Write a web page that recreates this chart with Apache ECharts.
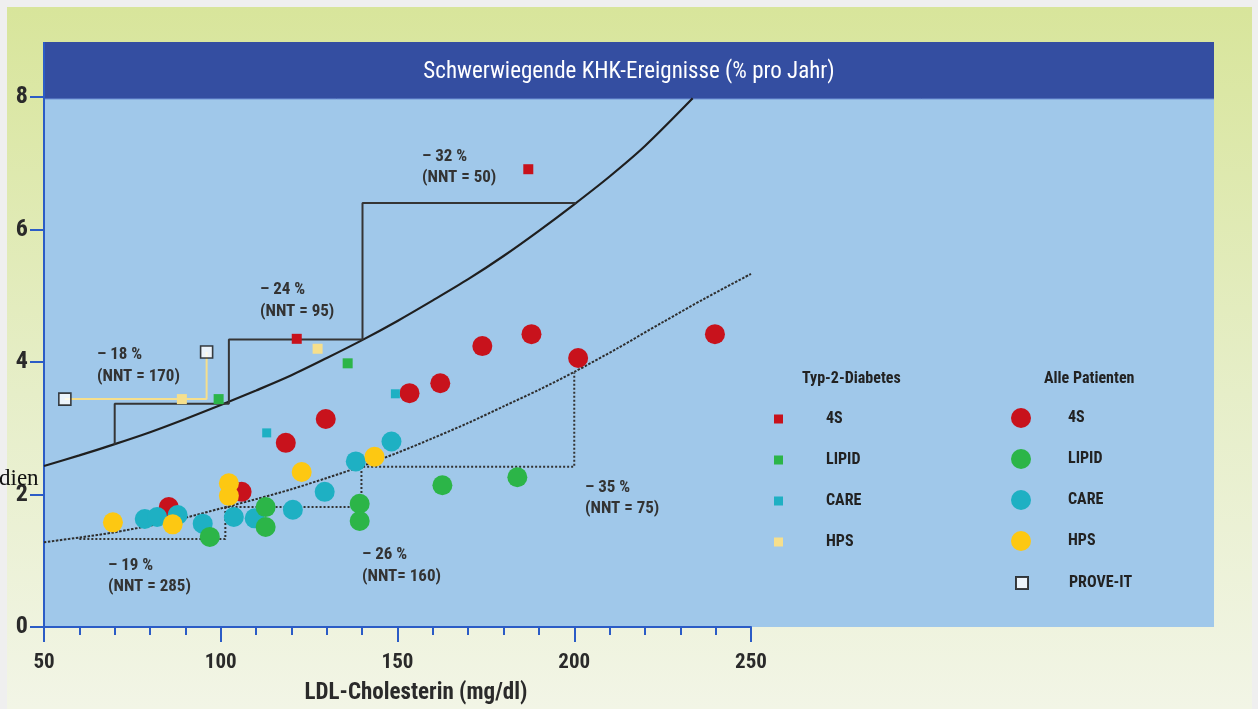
<!DOCTYPE html>
<html>
<head>
<meta charset="utf-8">
<script src="https://cdn.jsdelivr.net/npm/echarts@6/dist/echarts.min.js"></script>
<style>
html,body{margin:0;padding:0;background:#efefef;}
#chart{width:1258px;height:709px;}
</style>
</head>
<body>
<div id="chart"></div>
<script>
// ---- data ----
const xTicks = [50, 100, 150, 200, 250];
const yTicks = [0, 2, 4, 6, 8];

// regression curves
const upperCurve = [[50,2.43],[60,2.59],[70,2.76],[80,2.94],[90,3.14],[100,3.35],[110,3.57],[120,3.8],[130,4.06],[140,4.33],[150,4.62],[160,4.93],[170,5.25],[180,5.6],[190,5.98],[200,6.38],[210,6.8],[220,7.26],[233.5,7.98]];
const lowerCurve = [[50,1.28],[60,1.35],[70,1.43],[80,1.53],[90,1.65],[100,1.79],[110,1.93],[120,2.08],[130,2.25],[140,2.43],[150,2.63],[160,2.85],[170,3.08],[180,3.33],[190,3.58],[200,3.85],[212,4.2],[225,4.6],[237,4.96],[250,5.33]];

// step lines between the curves
const upperSteps = [[70,2.75],[70,3.37],[102.3,3.37],[102.3,4.34],[140.1,4.34],[140.1,6.4],[200.4,6.4]];
const lowerSteps = [[60,1.33],[101.3,1.33],[101.3,1.81],[139.8,1.81],[139.8,2.42],[200,2.42],[200,3.84]];

// Alle Patienten (circles)
const all4S    = [[85.3,1.81],[105.9,2.04],[118.4,2.78],[129.7,3.14],[153.4,3.53],[162.1,3.68],[174,4.24],[187.9,4.42],[201.1,4.06],[239.8,4.42]];
const allCARE  = [[78.5,1.63],[82,1.66],[87.8,1.69],[94.9,1.56],[103.7,1.66],[109.6,1.64],[120.4,1.77],[129.4,2.04],[138.2,2.5],[148.3,2.8]];
const allLIPID = [[96.9,1.36],[112.7,1.81],[112.7,1.51],[139.3,1.86],[139.3,1.6],[162.7,2.14],[183.9,2.26]];
const allHPS   = [[69.5,1.58],[86.4,1.55],[102.3,2.17],[102.3,1.98],[122.9,2.34],[143.5,2.57]];

// Typ-2-Diabetes (small squares)
const dm4S    = [[121.5,4.35],[187,6.91]];
const dmLIPID = [[99.4,3.44],[135.9,3.98]];
const dmCARE  = [[113,2.93],[149.4,3.52]];
const dmHPS   = [[89,3.44],[127.4,4.2]];

// PROVE-IT
const proveIt = [[55.9,3.44],[96,4.15]];
const proveLink = [[55.9,3.44],[96,3.44],[96,4.15]];

// annotation texts
const annotations = [
  ['– 18 %', 97, 355], ['(NNT = 170)', 97, 377],
  ['– 24 %', 260, 290], ['(NNT = 95)', 260, 312],
  ['– 32 %', 422, 157], ['(NNT = 50)', 422, 178],
  ['– 19 %', 108, 566], ['(NNT = 285)', 108, 587],
  ['– 26 %', 362, 555], ['(NNT= 160)', 362, 577],
  ['– 35 %', 585, 488], ['(NNT = 75)', 585, 509]
];

// ---- styles ----
const NARROW = "'Liberation Sans Narrow','Arial Narrow','Roboto Condensed','DejaVu Sans Condensed',sans-serif";
const AXIS_BLUE = '#2b5cc6';
const C = {red:'#c8121c', green:'#2cb548', cyan:'#1eb0c3', yellow:'#fdc812', paleYellow:'#f6df8c'};

const chart = echarts.init(document.getElementById('chart'), null, {renderer:'canvas'});

function scatter(name, data, color, symbol, size, z){
  return {name, type:'scatter', data, symbol, symbolSize:size, z,
    itemStyle:{color, opacity:1}, emphasis:{disabled:true}};
}

const graphics = [
  {type:'rect', z:-20, silent:true, shape:{x:7,y:7,width:1245,height:702},
    style:{fill:new echarts.graphic.LinearGradient(0,0,0,1,[
      {offset:0,color:'#d8e59b'},{offset:0.55,color:'#e6eec8'},{offset:1,color:'#f2f5e6'}])}},
  {type:'rect', z:-19, silent:true, shape:{x:44,y:42,width:1170,height:585}, style:{fill:'#a0c8ea'}},
  {type:'rect', z:-18, silent:true, shape:{x:44,y:42,width:1170,height:57}, style:{fill:'#344ea1'}},
  {type:'line', z:-17, silent:true, shape:{x1:44,y1:99,x2:1214,y2:99}, style:{stroke:'#6f93d6',lineWidth:1}},
  {type:'line', z:5, silent:true, shape:{x1:44,y1:42,x2:44,y2:98}, style:{stroke:AXIS_BLUE,lineWidth:2}},
  {type:'text', z:10, silent:true, left:-1, top:467,
    style:{text:'dien', font:"23px 'Liberation Serif','DejaVu Serif',serif", fill:'#111'}},
  {type:'text', z:10, silent:true, x:802, y:379,
    style:{text:'Typ-2-Diabetes', font:'bold 16px '+NARROW, fill:'#222', textVerticalAlign:'middle'}},
  {type:'text', z:10, silent:true, x:1044, y:379,
    style:{text:'Alle Patienten', font:'bold 16px '+NARROW, fill:'#222', textVerticalAlign:'middle'}}
];
annotations.forEach(a => graphics.push({type:'text', z:10, silent:true, x:a[1], y:a[2],
  style:{text:a[0], font:'bold 17px '+NARROW, fill:'#333', textVerticalAlign:'middle'}}));

const legendText = {color:'#222', fontWeight:'bold', fontSize:16, fontFamily:NARROW, lineHeight:18, height:18};

const option = {
  backgroundColor:'#efefef',
  animation:false,
  title:{text:'Schwerwiegende KHK-Ereignisse (% pro Jahr)', left:'center', top:61, padding:0,
    textStyle:{color:'#ffffff', fontSize:23, fontWeight:'normal', fontFamily:NARROW}},
  grid:{left:44, right:507, top:97, bottom:82, containLabel:false, outerBoundsMode:'none'},
  graphic:graphics,
  legend:[
    {orient:'vertical', left:774, top:410, padding:0, itemWidth:9, itemHeight:9, itemGap:23, selectedMode:false,
      data:[{name:'Typ2 4S',icon:'rect'},{name:'Typ2 LIPID',icon:'rect'},{name:'Typ2 CARE',icon:'rect'},{name:'Typ2 HPS',icon:'rect'}],
      formatter:n=>n.split(' ')[1], textStyle:Object.assign({padding:[0,0,0,38]}, legendText)},
    {orient:'vertical', left:1011, top:408, padding:0, itemWidth:20, itemHeight:20, itemGap:21, selectedMode:false,
      data:[{name:'Alle 4S',icon:'circle'},{name:'Alle LIPID',icon:'circle'},{name:'Alle CARE',icon:'circle'},{name:'Alle HPS',icon:'circle'}],
      formatter:n=>n.split(' ')[1], textStyle:Object.assign({padding:[0,0,0,32]}, legendText)},
    {orient:'vertical', left:1015, top:574, padding:0, itemWidth:12, itemHeight:12, selectedMode:false,
      data:[{name:'PROVE-IT',icon:'rect'}],
      textStyle:Object.assign({padding:[0,0,0,36]}, legendText)}
  ],
  xAxis:{type:'value', min:xTicks[0], max:xTicks[xTicks.length-1], interval:50,
    name:'LDL-Cholesterin (mg/dl)', nameLocation:'middle', nameGap:55,
    nameTextStyle:{color:'#2a2a2a', fontSize:23, fontWeight:'bold', fontFamily:NARROW, padding:[0,0,0,37]},
    axisLine:{show:true, lineStyle:{color:AXIS_BLUE, width:2}},
    axisTick:{show:true, length:15, lineStyle:{color:AXIS_BLUE, width:2}},
    minorTick:{show:true, splitNumber:5, length:8, lineStyle:{color:AXIS_BLUE, width:2}},
    axisLabel:{color:'#2a2a2a', fontSize:21, fontWeight:'bold', fontFamily:NARROW, margin:25},
    splitLine:{show:false}},
  yAxis:{type:'value', min:yTicks[0], max:yTicks[yTicks.length-1], interval:2,
    axisLine:{show:true, lineStyle:{color:AXIS_BLUE, width:2}},
    axisTick:{show:true, length:14, lineStyle:{color:AXIS_BLUE, width:2}},
    axisLabel:{color:'#2a2a2a', fontSize:24, fontWeight:'bold', fontFamily:NARROW, margin:16},
    splitLine:{show:false}},
  series:[
    {name:'upperCurve', type:'line', data:upperCurve, smooth:0.3, symbol:'none', z:3, silent:true,
      lineStyle:{color:'#1f1f1f', width:2.2}},
    {name:'lowerCurve', type:'line', data:lowerCurve, smooth:0.3, symbol:'none', z:3, silent:true,
      lineStyle:{color:'#2e2e2e', width:2, type:[2.5,1.5]}},
    {name:'upperSteps', type:'line', data:upperSteps, symbol:'none', z:3, silent:true,
      lineStyle:{color:'#353535', width:2}},
    {name:'lowerSteps', type:'line', data:lowerSteps, symbol:'none', z:3, silent:true,
      lineStyle:{color:'#333333', width:2, type:[2,2]}},
    {name:'proveLink', type:'line', data:proveLink, symbol:'none', z:3, silent:true,
      lineStyle:{color:C.paleYellow, width:2}},
    scatter('Alle 4S', all4S, C.red, 'circle', 20, 4),
    scatter('Alle CARE', allCARE, C.cyan, 'circle', 20, 4),
    scatter('Alle LIPID', allLIPID, C.green, 'circle', 20, 4),
    scatter('Alle HPS', allHPS, C.yellow, 'circle', 20, 4),
    scatter('Typ2 4S', dm4S, C.red, 'rect', 10, 5),
    scatter('Typ2 LIPID', dmLIPID, C.green, 'rect', 10, 5),
    scatter('Typ2 CARE', dmCARE, C.cyan, 'rect', 9, 5),
    scatter('Typ2 HPS', dmHPS, C.paleYellow, 'rect', 10, 5),
    {name:'PROVE-IT', type:'scatter', data:proveIt, symbol:'rect', symbolSize:12, z:6,
      itemStyle:{color:'#ffffff', borderColor:'#111', borderWidth:1.6}, emphasis:{disabled:true}}
  ]
};
chart.setOption(option);
</script>
</body>
</html>
